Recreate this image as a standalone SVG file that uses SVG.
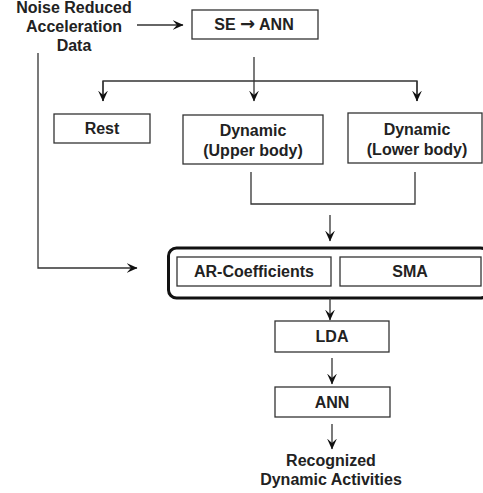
<svg xmlns="http://www.w3.org/2000/svg" width="483" height="493" viewBox="0 0 483 493">
<defs>
<marker id="ah" viewBox="0 0 10 10" refX="9.5" refY="5" markerWidth="11" markerHeight="11" markerUnits="userSpaceOnUse" orient="auto">
<path d="M0,0.5 L10,5 L0,9.5 L4,5 z" fill="#111"/>
</marker>
<style>
.t{font-family:"Liberation Sans",Arial,sans-serif;font-weight:bold;font-size:16px;fill:#222;text-anchor:middle}
.b{fill:#fff;stroke:#333;stroke-width:1.3}
.c{fill:none;stroke:#333;stroke-width:1.3}
</style>
</defs>
<rect width="483" height="493" fill="#fff"/>
<g id="input">
<text class="t" x="74" y="13">Noise Reduced</text>
<text class="t" x="74" y="32">Acceleration</text>
<text class="t" x="74" y="51">Data</text>
</g>
<g id="se-ann"><rect class="b" x="192" y="10" width="126" height="29"/><text class="t" x="254" y="30">SE <tspan font-family="DejaVu Sans" font-size="18">→</tspan> ANN</text></g>
<g id="rest"><rect class="b" x="54" y="114" width="96" height="29"/><text class="t" x="102" y="134">Rest</text></g>
<g id="dyn-upper"><rect class="b" x="183" y="115" width="140" height="49"/><text class="t" x="253" y="136">Dynamic</text><text class="t" x="253" y="156">(Upper body)</text></g>
<g id="dyn-lower"><rect class="b" x="348" y="113" width="134" height="50"/><text class="t" x="417" y="135">Dynamic</text><text class="t" x="417" y="155">(Lower body)</text></g>
<g id="features">
<rect x="168.5" y="248" width="320" height="50" rx="8" fill="#fff" stroke="#111" stroke-width="3"/>
<rect class="b" x="177" y="257" width="154" height="29"/><text class="t" x="254" y="277">AR-Coefficients</text>
<rect class="b" x="340" y="257" width="141" height="29"/><text class="t" x="410" y="277">SMA</text>
</g>
<g id="lda"><rect class="b" x="275" y="321" width="114" height="31"/><text class="t" x="332" y="342">LDA</text></g>
<g id="ann"><rect class="b" x="275" y="387" width="115" height="30"/><text class="t" x="332" y="408">ANN</text></g>
<g id="output"><text class="t" x="331" y="466">Recognized</text><text class="t" x="331" y="485">Dynamic Activities</text></g>
<g id="connectors">
<line class="c" x1="137" y1="25" x2="183" y2="25" marker-end="url(#ah)"/>
<line class="c" x1="254" y1="57" x2="254" y2="101" marker-end="url(#ah)"/>
<polyline class="c" points="103,101 103,81 417,81 417,101"/>
<line class="c" x1="103" y1="81" x2="103" y2="101" marker-end="url(#ah)"/>
<line class="c" x1="417" y1="81" x2="417" y2="101" marker-end="url(#ah)"/>
<polyline class="c" points="251,172 251,204 415,204 415,172"/>
<line class="c" x1="330" y1="215" x2="330" y2="241" marker-end="url(#ah)"/>
<polyline class="c" points="38,53 38,268 137,268" marker-end="url(#ah)"/>
<line class="c" x1="330" y1="298" x2="330" y2="320" marker-end="url(#ah)"/>
<line class="c" x1="332" y1="358" x2="332" y2="384" marker-end="url(#ah)"/>
<line class="c" x1="332" y1="424" x2="332" y2="449" marker-end="url(#ah)"/>
</g>
</svg>
